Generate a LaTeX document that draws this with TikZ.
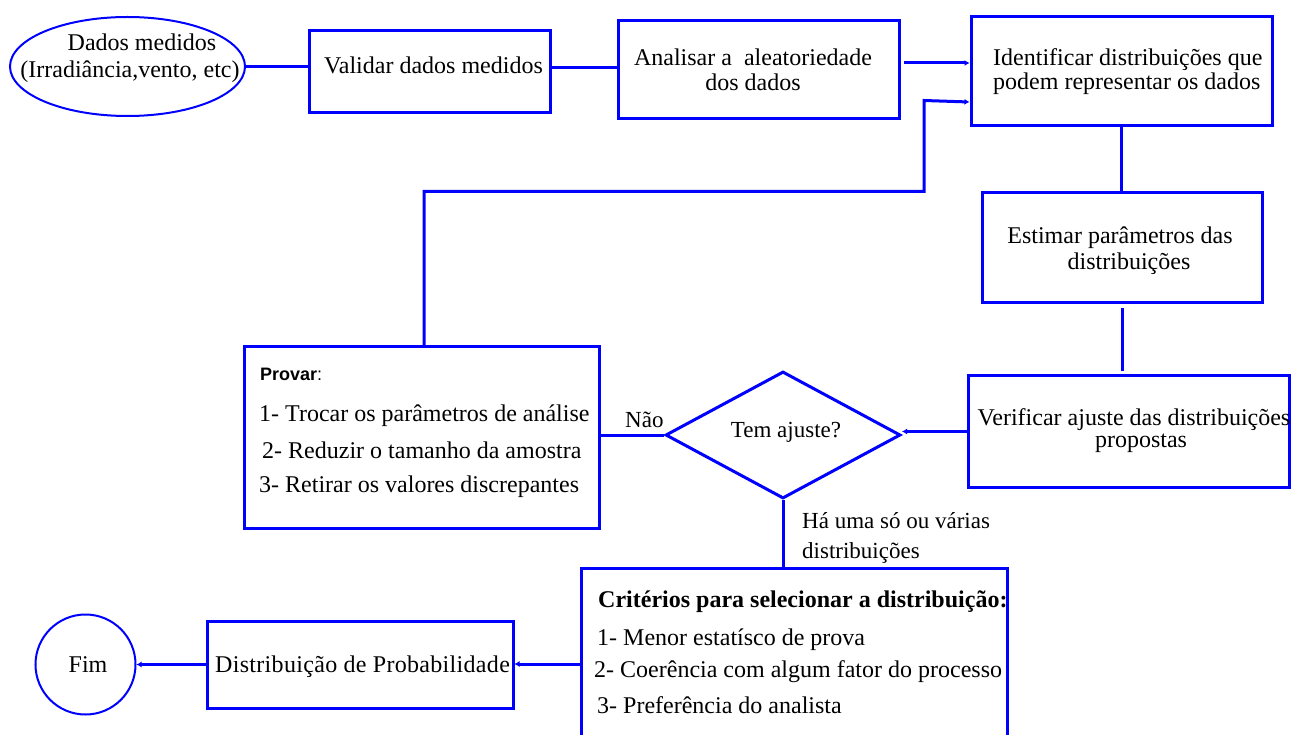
\documentclass[tikz,border=0pt]{standalone}
\usepackage{fontspec}
\setmainfont{Liberation Serif}
\setsansfont{Liberation Sans}
\usetikzlibrary{shapes.geometric,arrows.meta}
\begin{document}
\begin{tikzpicture}[x=1pt,y=-1pt,
  box/.style={draw=blue, line width=3pt, rectangle, inner sep=0pt},
  oval/.style={draw=blue, line width=2pt, ellipse, inner sep=0pt},
  txt/.style={font=\fontsize{24}{28}\selectfont, inner sep=0pt},
  txtn/.style={font=\fontsize{23}{27}\selectfont, inner sep=0pt},
  link/.style={draw=blue, line width=3pt},
  tipped/.style={-{Latex[length=5pt,width=6pt]}}]
\useasboundingbox (0,0) rectangle (1291,735);
\fill[white] (0,0) rectangle (1291,735);

% shapes
\node[oval, minimum width=235pt, minimum height=99pt] (ell) at (127.5,66.5) {};
\node[box, minimum width=241pt, minimum height=82pt] (val) at (429.5,72) {};
\node[box, minimum width=281pt, minimum height=98pt] (ana) at (758.5,70) {};
\node[box, minimum width=301pt, minimum height=109pt] (idn) at (1121.5,71.5) {};
\node[box, minimum width=280pt, minimum height=110pt] (est) at (1122,248) {};
\node[box, minimum width=321pt, minimum height=111pt] (ver) at (1128.5,431.5) {};
\node[draw=blue, line width=3pt, diamond, inner sep=0pt, minimum width=235pt, minimum height=127pt] (dia) at (783,435) {};
\node[box, minimum width=355pt, minimum height=181pt] (prv) at (421.5,437.5) {};
\node[box, minimum width=426pt, minimum height=192pt] (cri) at (794,664) {};
\node[box, minimum width=306pt, minimum height=87pt] (dis) at (360,664.5) {};
\node[oval, circle, minimum size=100pt] (fim) at (85.5,664.5) {};

% texts
\node[txt, anchor=base] (t1) at (142,51) {Dados medidos};
\node[txt, anchor=base] (t2) at (130,78) {(Irradiância,vento, etc)};
\node[txt, anchor=base west] (t3) at (324,74) {Validar dados medidos};
\node[txt, anchor=base] (t4) at (753,66) {Analisar a\ \ aleatoriedade};
\node[txt, anchor=base] (t5) at (753,91) {dos dados};
\node[txt, anchor=base west] (t6) at (993,66) {Identificar distribuições que};
\node[txt, anchor=base west] (t7) at (993,90) {podem representar os dados};
\node[txt, anchor=base] (t8) at (1120,244) {Estimar parâmetros das};
\node[txt, anchor=base] (t9) at (1129,270) {distribuições};
\node[txt, anchor=base] (t10) at (1134,425) {Verificar ajuste das distribuições};
\node[txt, anchor=base] (t11) at (1141,447) {propostas};
\node[txtn, anchor=base] (t12) at (786,437) {Tem ajuste?};
\node[txtn, anchor=base west] (t13) at (625,427) {Não};
\node[inner sep=0pt, anchor=base west, font=\fontsize{18}{21}\selectfont] (t14) at (260,381) {\textsf{\bfseries Provar}\textsf{:}};
\node[txt, anchor=base west] (t15) at (259,421) {1- Trocar os parâmetros de análise};
\node[txt, anchor=base west] (t16) at (262,458) {2- Reduzir o tamanho da amostra};
\node[txt, anchor=base west] (t17) at (259,492) {3- Retirar os valores discrepantes};
\node[txtn, anchor=base west] (t18) at (802,528) {Há uma só ou várias};
\node[txtn, anchor=base west] (t19) at (802,558) {distribuições};
\node[txt, anchor=base west, font=\fontsize{24}{28}\selectfont\bfseries] (t20) at (598,607) {Critérios para selecionar a distribuição:};
\node[txt, anchor=base west] (t21) at (597,645) {1- Menor estatísco de prova};
\node[txt, anchor=base west] (t22) at (594,677) {2- Coerência com algum fator do processo};
\node[txt, anchor=base west, font=\fontsize{24}{28}\selectfont\addfontfeatures{LetterSpace=1.3}] (t24) at (215,672) {Distribuição de Probabilidade};
\node[txt, anchor=base west] (t23) at (597,713) {3- Preferência do analista};
\node[txt, anchor=base] (t25) at (88,672) {Fim};

% connectors
\draw[link] (ell.east) -- (ell.east -| val.west);
\draw[link] ([yshift=4pt]val.east) -- ([yshift=4pt]val.east -| ana.west);
\draw[link, tipped] ([xshift=3pt,yshift=7pt]ana.east) -- ([yshift=7pt]ana.east -| idn.west);
\draw[link] (idn.south) -- (idn.south |- est.north);
\draw[link] ([yshift=-4pt]est.south) -- ([yshift=3pt]est.south |- ver.north);
\draw[link, tipped] (ver.west) -- (ver.west -| dia.east);
\draw[link] (dia.west) -- (dia.west -| prv.east);
\draw[link, tipped] ([xshift=2.5pt]prv.north) -- ++(0,-154) -| ++(500,-91) -- ([yshift=-30.5pt]idn.west);
\draw[link] (dia.south) -- (dia.south |- cri.north);
\draw[link, tipped] (cri.west) -- (cri.west -| dis.east);
\draw[link, tipped] (dis.west) -- (fim.east);
\end{tikzpicture}
\end{document}
